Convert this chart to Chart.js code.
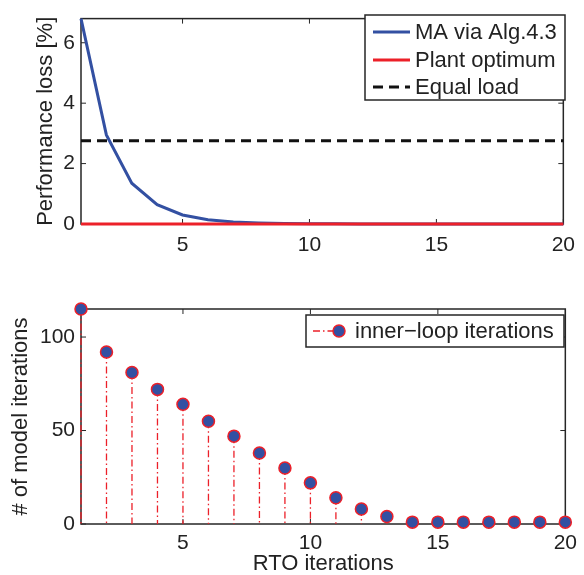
<!DOCTYPE html>
<html>
<head>
<meta charset="utf-8">
<script src="https://cdn.jsdelivr.net/npm/chart.js@4.4.1/dist/chart.umd.min.js"></script>
<style>
  body { margin: 0; background: #fff; }
  canvas { position: absolute; left: 0; }
  #topChart { top: 0; }
  #bottomChart { top: 260px; }
</style>
</head>
<body>
<canvas id="topChart" width="584" height="260"></canvas>
<canvas id="bottomChart" width="584" height="315"></canvas>
<script>
// Datos
const rtoIterations = [1, 2, 3, 4, 5, 6, 7, 8, 9, 10, 11, 12, 13, 14, 15, 16, 17, 18, 19, 20];
const maLoss = [6.8, 2.95, 1.35, 0.64, 0.3, 0.14, 0.07, 0.035, 0.018, 0.01, 0.006, 0.004, 0.003, 0.002, 0.002, 0.001, 0.001, 0.001, 0.001, 0.001];
const plantOptimum = [0, 0, 0, 0, 0, 0, 0, 0, 0, 0, 0, 0, 0, 0, 0, 0, 0, 0, 0, 0];
const equalLoad = [2.76, 2.76, 2.76, 2.76, 2.76, 2.76, 2.76, 2.76, 2.76, 2.76, 2.76, 2.76, 2.76, 2.76, 2.76, 2.76, 2.76, 2.76, 2.76, 2.76];
const innerLoop = [115, 92, 81, 72, 64, 55, 47, 38, 30, 22, 14, 8, 4, 1, 1, 1, 1, 1, 1, 1];

const xTicks = [5, 10, 15, 20];
const lossTicks = [0, 2, 4, 6];
const iterTicks = [0, 50, 100];

const BLUE = "#3350a2";
const RED = "#ec2029";
const BLACK = "#111";
const TEXT = "#222";
const FONT = "'Liberation Sans', Arial, Helvetica, sans-serif";

function toPoints(xs, ys) {
  return xs.map((x, i) => ({ x: x, y: ys[i] }));
}

// Caja de ejes con marcas hacia adentro (estilo MATLAB)
const axesBox = {
  id: "axesBox",
  beforeDatasetsDraw(chart) {
    const { ctx, chartArea: a, scales } = chart;
    const x = scales.x;
    const y = scales.y;
    ctx.save();
    ctx.strokeStyle = "#262626";
    ctx.lineWidth = 1.5;
    ctx.strokeRect(a.left, a.top, a.right - a.left, a.bottom - a.top);
    ctx.lineWidth = 1;
    ctx.beginPath();
    x.ticks.forEach((t) => {
      const px = x.getPixelForValue(t.value);
      ctx.moveTo(px, a.bottom);
      ctx.lineTo(px, a.bottom - 5);
      ctx.moveTo(px, a.top);
      ctx.lineTo(px, a.top + 5);
    });
    y.ticks.forEach((t) => {
      const py = y.getPixelForValue(t.value);
      ctx.moveTo(a.left, py);
      ctx.lineTo(a.left + 5, py);
      ctx.moveTo(a.right, py);
      ctx.lineTo(a.right - 5, py);
    });
    ctx.stroke();
    ctx.restore();
  },
};

// Lineas verticales tipo "stem"
const stems = {
  id: "stems",
  beforeDatasetsDraw(chart) {
    const { ctx, scales } = chart;
    const x = scales.x;
    const y = scales.y;
    ctx.save();
    ctx.strokeStyle = RED;
    ctx.lineWidth = 1.3;
    ctx.setLineDash([7, 3, 1.5, 3]);
    innerLoop.forEach((v, i) => {
      const px = x.getPixelForValue(rtoIterations[i]);
      ctx.beginPath();
      ctx.moveTo(px, y.getPixelForValue(v));
      ctx.lineTo(px, y.getPixelForValue(0));
      ctx.stroke();
    });
    ctx.restore();
  },
};

const topLegend = {
  id: "topLegend",
  afterDraw(chart) {
    const ctx = chart.ctx;
    const ds = chart.data.datasets;
    ctx.save();
    ctx.fillStyle = "#fff";
    ctx.fillRect(365, 15, 200, 85);
    ctx.strokeStyle = "#262626";
    ctx.lineWidth = 1.5;
    ctx.strokeRect(365, 15, 200, 85);
    const rows = [32, 60, 87];
    ds.forEach((d, i) => {
      ctx.strokeStyle = d.borderColor;
      ctx.lineWidth = 3;
      ctx.setLineDash(d.borderDash || []);
      ctx.beginPath();
      ctx.moveTo(373, rows[i]);
      ctx.lineTo(410, rows[i]);
      ctx.stroke();
      ctx.setLineDash([]);
      ctx.fillStyle = TEXT;
      ctx.font = "22px " + FONT;
      ctx.textBaseline = "middle";
      ctx.fillText(d.label, 415, rows[i] + 1);
    });
    ctx.restore();
  },
};

const bottomLegend = {
  id: "bottomLegend",
  afterDraw(chart) {
    const ctx = chart.ctx;
    const d = chart.data.datasets[0];
    ctx.save();
    ctx.fillStyle = "#fff";
    ctx.fillRect(306, 55, 258, 32);
    ctx.strokeStyle = "#262626";
    ctx.lineWidth = 1.5;
    ctx.strokeRect(306, 55, 258, 32);
    ctx.strokeStyle = RED;
    ctx.lineWidth = 1.3;
    ctx.setLineDash([7, 3, 1.5, 3]);
    ctx.beginPath();
    ctx.moveTo(313, 71);
    ctx.lineTo(334, 71);
    ctx.stroke();
    ctx.setLineDash([]);
    ctx.beginPath();
    ctx.arc(339, 71, 6, 0, Math.PI * 2);
    ctx.fillStyle = BLUE;
    ctx.fill();
    ctx.lineWidth = 1.5;
    ctx.strokeStyle = RED;
    ctx.stroke();
    ctx.fillStyle = TEXT;
    ctx.font = "22px " + FONT;
    ctx.textBaseline = "middle";
    ctx.fillText(d.label, 355, 72);
    ctx.restore();
  },
};

function xScale(height, pad, title) {
  return {
    type: "linear",
    min: 1,
    max: 20,
    afterBuildTicks: (s) => { s.ticks = xTicks.map((v) => ({ value: v })); },
    afterFit: (s) => { s.height = height; },
    grid: { display: false, drawTicks: false },
    border: { display: false },
    ticks: { color: TEXT, font: { family: FONT, size: 21 }, padding: pad, maxRotation: 0 },
    title: title
      ? { display: true, text: title, color: TEXT, font: { family: FONT, size: 22, lineHeight: 1 }, padding: { top: 0, bottom: 0 } }
      : { display: false },
  };
}

function yScale(max, ticks, title, titlePad) {
  return {
    min: 0,
    max: max,
    afterBuildTicks: (s) => { s.ticks = ticks.map((v) => ({ value: v })); },
    afterFit: (s) => { s.width = 81; },
    grid: { display: false, drawTicks: false },
    border: { display: false },
    ticks: { color: TEXT, font: { family: FONT, size: 21 }, padding: 6 },
    title: { display: true, text: title, color: TEXT, font: { family: FONT, size: 22 }, padding: { top: titlePad, bottom: 0 } },
  };
}

new Chart(document.getElementById("topChart"), {
  type: "line",
  data: {
    datasets: [
      { label: "MA via Alg.4.3", data: toPoints(rtoIterations, maLoss), borderColor: BLUE, borderWidth: 3, pointRadius: 0, clip: false, order: 2 },
      { label: "Plant optimum", data: toPoints(rtoIterations, plantOptimum), borderColor: RED, borderWidth: 3, pointRadius: 0, clip: false, order: 1 },
      { label: "Equal load", data: toPoints(rtoIterations, equalLoad), borderColor: BLACK, borderWidth: 3, borderDash: [10, 6], pointRadius: 0, clip: false, order: 0 },
    ],
  },
  options: {
    responsive: false,
    animation: false,
    devicePixelRatio: 1,
    layout: { padding: { left: 0, right: 13, top: 10, bottom: 0 } },
    plugins: { legend: { display: false }, tooltip: { enabled: false } },
    scales: {
      x: xScale(36, 9, null),
      y: yScale(6.8, lossTicks, "Performance loss [%]", 33),
    },
  },
  plugins: [axesBox, topLegend],
});

new Chart(document.getElementById("bottomChart"), {
  type: "line",
  data: {
    datasets: [
      {
        label: "inner\u2212loop iterations",
        data: toPoints(rtoIterations, innerLoop),
        showLine: false,
        pointRadius: 6,
        pointBackgroundColor: BLUE,
        pointBorderColor: RED,
        pointBorderWidth: 1.5,
        clip: false,
      },
    ],
  },
  options: {
    responsive: false,
    animation: false,
    devicePixelRatio: 1,
    layout: { padding: { left: 0, right: 13, top: 49, bottom: 0 } },
    plugins: { legend: { display: false }, tooltip: { enabled: false } },
    scales: {
      x: xScale(51, 7, "RTO iterations"),
      y: yScale(115, iterTicks, "# of model iterations", 8),
    },
  },
  plugins: [axesBox, stems, bottomLegend],
});
</script>
</body>
</html>
